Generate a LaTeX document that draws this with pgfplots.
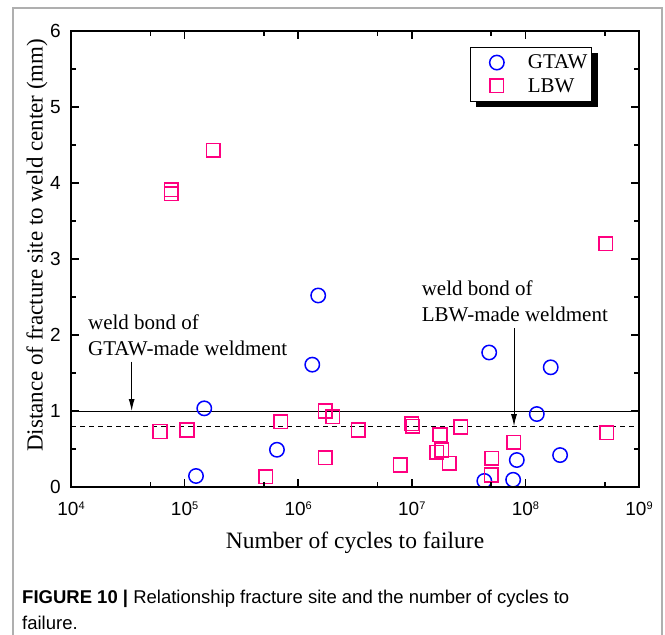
\documentclass[border=0pt]{standalone}
\usepackage{fontspec}
\setmainfont{Liberation Serif}
\newfontfamily\sansf{Liberation Sans}
\usepackage{pgfplots}
\pgfplotsset{compat=1.18}
\usetikzlibrary{arrows.meta}
\pgfdeclarelayer{background}
\pgfsetlayers{background,main}
\definecolor{lbw}{RGB}{255,0,128}
\definecolor{gtaw}{RGB}{0,0,255}
\definecolor{framegray}{RGB}{175,175,175}
\newcommand{\ex}[1]{10\raisebox{6.5pt}{\fontsize{11}{11}\selectfont #1}}
\begin{document}
\begin{tikzpicture}
\useasboundingbox (0pt,0pt) rectangle (665pt,-635pt);
\draw[framegray, line width=1.5pt] (13pt,-635pt) -- (13pt,-8pt) -- (662pt,-8pt) -- (662pt,-635pt);
\begin{axis}[
  at={(71pt,-487pt)}, anchor=south west,
  scale only axis, width=568pt, height=456pt,
  xmode=log, xmin=1e4, xmax=1e9, ymin=0, ymax=6,
  xtick={1e4,1e5,1e6,1e7,1e8,1e9},
  xticklabels={\ex{4},\ex{5},\ex{6},\ex{7},\ex{8},\ex{9}},
  minor xtick={5e4,5e5,5e6,5e7,5e8},
  ytick={0,1,2,3,4,5,6},
  minor ytick={0.5,1.5,2.5,3.5,4.5,5.5},
  /pgf/number format/assume math mode=true,
  tick align=inside,
  axis line style={line width=2pt},
  major tick length=8pt, minor tick length=5pt,
  every tick/.style={black, line width=1.5pt},
  xticklabel style={font=\sansf\fontsize{19}{19}\selectfont, anchor=base, inner sep=0pt, yshift=-28.5pt},
  yticklabel style={font=\sansf\fontsize{19}{19}\selectfont, anchor=east, inner sep=0pt, xshift=-10pt},
  xlabel={Number of cycles to failure},
  ylabel={Distance of fracture site to weld center (mm)},
  xlabel style={font=\fontsize{23.5}{23.5}\selectfont, at={(axis description cs:0.5,-0.1338)}, anchor=base, inner sep=0pt},
  ylabel style={font=\fontsize{23}{23}\selectfont, at={(axis description cs:-0.0500,0.53)}, anchor=base, inner sep=0pt, rotate=0},
  clip marker paths=true,
  axis on top=true,
  legend style={name=leg, at={(axis description cs:0.917,0.965)}, anchor=north east,
    draw=black, line width=0.8pt, fill=white,
    font=\fontsize{21}{21}\selectfont,
    inner xsep=3pt, inner ysep=6.5pt, row sep=6pt,
    nodes={inner sep=1pt}, cells={anchor=west}},
  legend image code/.code={\draw[#1] plot coordinates {(23pt,0pt)};
    \pgfpathrectangle{\pgfpoint{0pt}{-1pt}}{\pgfpoint{53pt}{2pt}}\pgfusepath{use as bounding box}},
]
\addplot[forget plot, black, line width=1pt] coordinates {(1e4,1) (1e9,1)};
\addplot[forget plot, black, line width=1pt, dash pattern=on 5pt off 4pt] coordinates {(1e4,0.8) (1e9,0.8)};

\addplot[only marks, mark=o, mark size=7.2pt, gtaw, line width=1.5pt] table {
x y
1.26e5 0.145
1.49e5 1.035
6.5e5 0.49
1.33e6 1.61
1.50e6 2.52
4.35e7 0.08
4.8e7 1.77
7.8e7 0.095
8.4e7 0.355
1.26e8 0.96
1.67e8 1.575
2.02e8 0.42
};
\addlegendentry{GTAW}
\addplot[only marks, mark=square, mark size=6.8pt, lbw, line width=1.5pt] table {
x y
6.07e4 0.73
7.6e4 3.91
7.6e4 3.86
1.05e5 0.75
1.79e5 4.43
5.2e5 0.136
7.0e5 0.86
1.73e6 1.0
1.73e6 0.386
2.01e6 0.925
3.38e6 0.75
7.9e6 0.29
1.0e7 0.83
1.02e7 0.80
1.66e7 0.456
1.77e7 0.69
1.83e7 0.487
2.14e7 0.31
2.69e7 0.79
5.05e7 0.38
5.0e7 0.158
7.9e7 0.59
5.2e8 0.715
5.1e8 3.20
};
\addlegendentry{LBW}

\node[anchor=base west, font=\fontsize{21}{21}\selectfont, inner sep=0pt] at (axis cs:1.41e4,2.066) {weld bond of};
\node[anchor=base west, font=\fontsize{21}{21}\selectfont, inner sep=0pt] at (axis cs:1.41e4,1.724) {GTAW-made weldment};
\draw[-{Latex[length=12pt,width=6pt]}, line width=1pt] (axis cs:3.42e4,1.649) -- (axis cs:3.42e4,1.0);
\node[anchor=base west, font=\fontsize{21}{21}\selectfont, inner sep=0pt] at (axis cs:1.22e7,2.517) {weld bond of};
\node[anchor=base west, font=\fontsize{21}{21}\selectfont, inner sep=0pt] at (axis cs:1.22e7,2.175) {LBW-made weldment};
\draw[-{Latex[length=12pt,width=6pt]}, line width=1pt] (axis cs:7.94e7,2.088) -- (axis cs:7.94e7,0.8);
\end{axis}
\begin{pgfonlayer}{background}
\fill[black] ([shift={(6pt,-6pt)}]leg.south west) rectangle ([shift={(6pt,-6pt)}]leg.north east);
\end{pgfonlayer}
\node[anchor=base west, font=\sansf\fontsize{18.5}{18.5}\selectfont, inner sep=0pt] at (22pt,-603pt) {\textbf{FIGURE 10 |} Relationship fracture site and the number of cycles to};
\node[anchor=base west, font=\sansf\fontsize{18.5}{18.5}\selectfont, inner sep=0pt] at (22pt,-629pt) {failure.};
\end{tikzpicture}
\end{document}
